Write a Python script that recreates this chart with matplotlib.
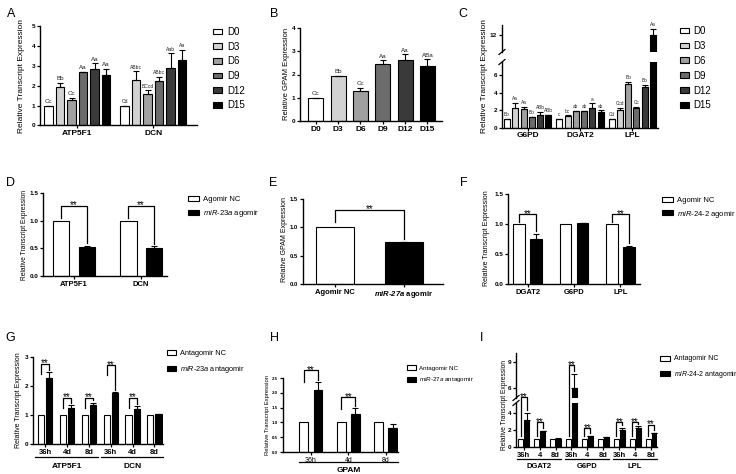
import numpy as np
import matplotlib.pyplot as plt
from matplotlib.patches import Patch
from matplotlib.lines import Line2D

plt.rcParams['font.family'] = ['Liberation Sans', 'DejaVu Sans']
plt.rcParams['mathtext.fontset'] = 'custom'
plt.rcParams['mathtext.rm'] = 'Liberation Sans'
plt.rcParams['mathtext.it'] = 'Liberation Sans:italic'
plt.rcParams['mathtext.bf'] = 'Liberation Sans:bold'
plt.rcParams['mathtext.bfit'] = 'Liberation Sans:italic:bold'

W, H = 736, 474

# ---- data ----
days = ['D0', 'D3', 'D6', 'D9', 'D12', 'D15']

a_genes = ['ATP5F1', 'DCN']
a_mean = [[1.0, 1.93, 1.3, 2.68, 2.83, 2.55],
          [1.0, 2.27, 1.57, 2.23, 2.9, 3.3]]
a_err = [[0.0, 0.2, 0.1, 0.03, 0.3, 0.3],
         [0.0, 0.45, 0.2, 0.23, 0.73, 0.5]]
a_sig = [['Cc', 'Bb', 'Cc', 'Aa', 'Aa', 'Aa'],
         ['Cd', 'ABbc', 'BCcd', 'ABbc', 'Aab', 'Aa']]

b_mean = [1.0, 1.93, 1.3, 2.47, 2.61, 2.36]
b_err = [0.0, 0.02, 0.14, 0.14, 0.26, 0.29]
b_sig = ['Cc', 'Bb', 'Cc', 'Aa', 'Aa', 'ABa']

c_genes = ['G6PD', 'DGAT2', 'LPL']
c_mean = [[1.0, 2.19, 2.15, 1.2, 1.48, 1.4],
          [1.0, 1.3, 1.85, 1.85, 2.2, 1.75],
          [1.0, 1.95, 5.0, 2.2, 4.6, 12.0]]
c_err = [[0.0, 0.6, 0.25, 0.05, 0.3, 0.05],
         [0.0, 0.1, 0.07, 0.08, 0.55, 0.2],
         [0.0, 0.3, 0.2, 0.2, 0.3, 0.7]]
c_sig = [['Bb', 'Aa', 'Aa', 'Bb', 'ABb', 'ABb'],
         ['c', 'bc', 'ab', 'ab', 'a', 'ab'],
         ['Cd', 'Ccd', 'Bb', 'Cc', 'Bb', 'Aa']]

d_genes = ['ATP5F1', 'DCN']
d_nc = [1.0, 1.0]
d_trt = [0.52, 0.51]
d_err = [0.03, 0.03]
d_sig = ['**', '**']
d_brk = [1.27, 1.27]

e_groups = ['Agomir NC', r'$\mathbfit{miR}$-$\mathbfit{27a}$ agomir']
e_nc = [1.0]
e_trt = [0.74]
e_err = [0.01]
e_sig = ['**']
e_brk = [1.31]

f_genes = ['DGAT2', 'G6PD', 'LPL']
f_nc = [1.0, 1.0, 1.0]
f_trt = [0.745, 1.01, 0.62]
f_err = [0.09, 0.01, 0.02]
f_sig = ['**', '', '**']
f_brk = [1.17, 0, 1.17]

g_genes = ['ATP5F1', 'DCN']
g_times = ['36h', '4d', '8d', '36h', '4d', '8d']
g_nc = [1.0] * 6
g_trt = [2.27, 1.24, 1.34, 1.76, 1.22, 1.03]
g_err = [0.2, 0.1, 0.08, 0.02, 0.08, 0.02]
g_sig = ['**', '**', '**', '**', '**', '']
g_brk = [2.77, 1.6, 1.6, 2.71, 1.6, 0]

h_genes = ['GPAM']
h_times = ['36h', '4d', '8d']
h_nc = [1.0] * 3
h_trt = [2.1, 1.27, 0.8]
h_err = [0.25, 0.2, 0.14]
h_sig = ['**', '**', '']
h_brk = [2.76, 1.85, 0]

i_genes = ['DGAT2', 'G6PD', 'LPL']
i_times = ['36h', '4', '8d'] * 3
i_nc = [1.0] * 9
i_trt = [3.2, 1.88, 1.0, 6.0, 1.3, 1.15, 1.95, 2.2, 1.6]
i_err = [0.75, 0.05, 0.02, 1.6, 0.05, 0.02, 0.3, 0.2, 0.1]
i_sig = ['**', '**', '', '**', '**', '', '**', '**', '**']
i_brk = [4.9, 2.88, 0, 8.6, 2.2, 0, 2.9, 2.9, 2.6]

day_colors = ['white', '#d2d2d2', '#a0a0a0', '#6c6c6c', '#3a3a3a', 'black']

fig = plt.figure(figsize=(W / 100, H / 100), dpi=100)


def rect(l, t, r, b):
    return [l / W, 1 - b / H, (r - l) / W, (b - t) / H]


def new_ax(box, ylim, yticks, xlim, fmt='%g', bottom=True, ts=4.6):
    ax = fig.add_axes(rect(*box))
    for s in ['top', 'right']:
        ax.spines[s].set_visible(False)
    for s in ['left', 'bottom']:
        ax.spines[s].set_linewidth(1.0)
    ax.set_ylim(*ylim)
    ax.set_xlim(*xlim)
    ax.set_yticks(yticks)
    ax.set_yticklabels([fmt % v for v in yticks], fontweight='bold')
    ax.tick_params(length=2.5, width=0.9, pad=1.0)
    ax.tick_params(axis='y', labelsize=ts)
    if not bottom:
        ax.spines['bottom'].set_visible(False)
        ax.tick_params(axis='x', bottom=False, labelbottom=False)
    return ax


def pick(axs, y):
    for ax in axs[::-1]:
        if y >= ax.get_ylim()[0]:
            return ax
    return axs[0]


def disp(axs, x, y):
    return pick(axs, y).transData.transform((x, y))


def err_kw():
    return dict(elinewidth=0.8, capsize=2.0, capthick=0.8, ecolor='black')


def day_bars(axs, x, mean, err, width, sig, fs):
    for ax in axs:
        ax.bar(x, mean, width, color=day_colors, edgecolor='black', linewidth=0.8,
               yerr=[np.zeros(len(err)), err], error_kw=err_kw(), zorder=2)
    for xi, m, e, s in zip(x, mean, err, sig):
        ax = pick(axs, m + e)
        ax.annotate(s, (xi, m + e), xytext=(0, 1.2), textcoords='offset points',
                    ha='center', va='bottom', fontsize=fs, color='#222222')


def pair_bars(axs, x, nc, trt, err, width):
    x = np.asarray(x, dtype=float)
    for ax in axs:
        ax.bar(x, nc, width, color='white', edgecolor='black', linewidth=0.8, zorder=2)
        ax.bar(x + 1, trt, width, color='black', edgecolor='black', linewidth=0.8,
               yerr=[np.zeros(len(err)), err], error_kw=err_kw(), zorder=2)


def brackets(axs, x, nc, trt, err, ys, sig, leg=None, fs=7):
    for xi, n, t, e, y, s in zip(x, nc, trt, err, ys, sig):
        if not s:
            continue
        a = disp(axs, xi, y)
        b = disp(axs, xi + 1, y)
        l_end = disp(axs, xi, n)[1] + 2.5
        if leg is not None:
            l_end = max(l_end, a[1] - leg)
        r_end = disp(axs, xi + 1, t + e)[1] + 2.5
        xs = np.array([a[0], a[0], b[0], b[0]]) / W
        yy = np.array([l_end, a[1], b[1], r_end]) / H
        fig.add_artist(Line2D(xs, yy, transform=fig.transFigure, color='black', lw=0.9))
        fig.text((a[0] + b[0]) / 2 / W, (a[1] - 2.8) / H, s, ha='center',
                 va='baseline', fontsize=fs)


def legend(ax, handles, labels, x, ytop, fs, step, bw, bh, gap):
    fpx = fs * 100 / 72
    ax.legend(handles, labels, loc='upper left', bbox_to_anchor=(x / W, 1 - ytop / H),
              bbox_transform=fig.transFigure, frameon=False, fontsize=fs,
              borderpad=0, borderaxespad=0, handlelength=bw / fpx,
              handleheight=bh / fpx, handletextpad=gap / fpx,
              labelspacing=(step - fpx) / fpx)


def broken_marks(lo, hi):
    for ax, end in [(lo, 'top'), (hi, 'bottom')]:
        x0, y0 = ax.transAxes.transform((0, 1 if end == 'top' else 0))
        fig.add_artist(Line2D([(x0 - 3) / W, (x0 + 3) / W], [(y0 - 2.5) / H, (y0 + 2.5) / H],
                              transform=fig.transFigure, color='black', lw=0.9))


def under_groups(ax, spans, names, y_line, y_text, fs):
    for (x0, x1), name in zip(spans, names):
        p0 = ax.transData.transform((x0, 0))[0]
        p1 = ax.transData.transform((x1, 0))[0]
        fig.add_artist(Line2D([p0 / W, p1 / W], [1 - y_line / H] * 2,
                              transform=fig.transFigure, color='black', lw=0.9))
        fig.text((p0 + p1) / 2 / W, 1 - y_text / H, name, ha='center', va='center',
                 fontsize=fs, fontweight='bold')


def ylab(x, y, s, fs):
    fig.text(x / W, 1 - y / H, s, rotation=90, ha='center', va='center', fontsize=fs)


def panel(x, y, s):
    fig.text(x / W, 1 - y / H, s, fontsize=9, va='baseline', ha='left')


day_handles = [Patch(facecolor=c, edgecolor='black', linewidth=0.8) for c in day_colors]

# ---- A ----
axA = new_ax((40, 26, 197, 125.5), (0, 5), [0, 1, 2, 3, 4, 5], (-0.75, 12.9))
for g in range(2):
    xs = g * 6.6 + np.arange(6)
    day_bars([axA], xs, a_mean[g], a_err[g], 0.74, a_sig[g], 4.5 if g == 0 else 3.6)
axA.set_xticks([2.5, 6.6 + 2.5])
axA.set_xticklabels(a_genes, fontsize=6, fontweight='bold')
legend(axA, day_handles, days, 213, 27, 7, 14.4, 8.5, 5, 5.5)
ylab(22, 76, 'Relative Transcript Expression', 6)
panel(7, 17, 'A')

# ---- B ----
axB = new_ax((300, 28, 442, 121), (0, 4), [0, 1, 2, 3, 4], (-0.7, 5.65))
day_bars([axB], np.arange(6), b_mean, b_err, 0.67, b_sig, 4.5)
axB.set_xticks(np.arange(6))
axB.set_xticklabels(days, fontsize=6, fontweight='bold')
ylab(287, 74, 'Relative GPAM Expression', 5.5)
panel(270, 17, 'B')

# ---- C (broken axis) ----
axC = new_ax((502, 62, 658, 127.5), (0, 7.5), [0, 2, 4, 6], (-0.6, 18.2))
axC2 = new_ax((502, 24.5, 658, 52), (10.1, 13.2), [12], (-0.6, 18.2), bottom=False)
for g in range(3):
    xs = g * 6.3 + np.arange(6)
    day_bars([axC, axC2], xs, c_mean[g], c_err[g], 0.72, c_sig[g], 3.4)
axC.set_xticks([g * 6.3 + 2.5 for g in range(3)])
axC.set_xticklabels(c_genes, fontsize=6, fontweight='bold')
broken_marks(axC, axC2)
legend(axC, day_handles, days, 680, 26, 7, 14.6, 8.5, 5, 5)
ylab(485, 76, 'Relative Transcript Expression', 6)
panel(458, 17, 'C')

pair_handles = [Patch(facecolor='white', edgecolor='black', linewidth=0.8),
                Patch(facecolor='black', edgecolor='black', linewidth=0.8)]

# ---- D ----
axD = new_ax((43, 193, 167, 276), (0, 1.5), [0, 0.5, 1.0, 1.5], (-0.7, 4.1), '%.1f')
xd = np.arange(2) * 2.6
pair_bars([axD], xd, d_nc, d_trt, d_err, 0.65)
brackets([axD], xd, d_nc, d_trt, d_err, d_brk, d_sig, leg=12)
axD.set_xticks(xd + 0.5)
axD.set_xticklabels(d_genes, fontsize=5.5, fontweight='bold')
legend(axD, pair_handles, ['Agomir NC', r'$\mathit{miR}$-$\mathit{23a}$ agomir'],
       188, 195.5, 5.5, 13, 11, 5, 4)
ylab(25, 235, 'Relative Transcript Expression', 4.8)
panel(6, 186, 'D')

# ---- E ----
axE = new_ax((303, 199, 443, 284), (0, 1.5), [0, 0.5, 1.0, 1.5], (-0.47, 1.57), '%.1f',
             ts=4.2)
xe = np.array([0.0])
pair_bars([axE], xe, e_nc, e_trt, e_err, 0.55)
brackets([axE], xe, e_nc, e_trt, e_err, e_brk, e_sig, leg=12)
axE.set_xticks([0, 1])
axE.set_xticklabels(e_groups, fontsize=5.5, fontweight='bold')
ylab(285, 240, 'Relative GPAM Expression', 5)
panel(269, 186, 'E')

# ---- F ----
axF = new_ax((508, 194, 640, 284), (0, 1.5), [0, 0.5, 1.0, 1.5], (-0.65, 7.05), '%.1f')
xf = np.arange(3) * 2.7
pair_bars([axF], xf, f_nc, f_trt, f_err, 0.68)
brackets([axF], xf, f_nc, f_trt, f_err, f_brk, f_sig, leg=9)
axF.set_xticks(xf + 0.5)
axF.set_xticklabels(f_genes, fontsize=5.5, fontweight='bold')
legend(axF, pair_handles, ['Agomir NC', r'$\mathit{miR}$-$\mathit{24}$-$\mathit{2}$ agomir'],
       662, 196.5, 5.5, 12.5, 11, 5, 4)
ylab(487, 238, 'Relative Transcript Expression', 5)
panel(460, 186, 'F')

# ---- G ----
axG = new_ax((33, 357, 163, 444), (0, 3), [0, 1, 2, 3], (-1.0, 15.06))
xg = np.arange(6) * 2.7
pair_bars([axG], xg, g_nc, g_trt, g_err, 0.75)
brackets([axG], xg, g_nc, g_trt, g_err, g_brk, g_sig, leg=10)
axG.set_xticks(xg + 0.5)
axG.set_xticklabels(g_times, fontsize=5.5, fontweight='bold')
under_groups(axG, [(xg[0] - 0.7, xg[2] + 1.6), (xg[3] - 0.7, xg[5] + 1.6)], g_genes, 457, 467, 6)
legend(axG, pair_handles, ['Antagomir NC', r'$\mathit{miR}$-$\mathit{23a}$ antagomir'],
       167, 350, 5.3, 14, 8.5, 5, 4.5)
ylab(19, 400, 'Relative Transcript Expression', 5)
panel(5, 341, 'G')

# ---- H ----
axH = new_ax((283, 378, 398, 452), (0, 2.5), [0, 0.5, 1.0, 1.5, 2.0, 2.5], (-1.43, 6.55),
             '%.1f', ts=3.2)
xh = np.arange(3) * 2.6
pair_bars([axH], xh, h_nc, h_trt, h_err, 0.62)
brackets([axH], xh, h_nc, h_trt, h_err, h_brk, h_sig, leg=12)
axH.set_xticks(xh + 0.5)
axH.set_xticklabels(h_times, fontsize=5)
under_groups(axH, [(xh[0] - 0.35, xh[2] + 1.35)], h_genes, 462, 471, 6)
legend(axH, pair_handles, ['Antagomir NC', r'$\mathit{miR}$-$\mathit{27a}$ antagomir'],
       407, 365, 4.5, 11, 8.5, 5, 3.5)
ylab(268, 415, 'Relative Transcript Expression', 4.2)
panel(270, 341, 'H')

# ---- I (broken axis) ----
axI = new_ax((516, 403, 657, 447.3), (0, 5.1), [0, 2, 4], (-0.8, 23.1))
axI2 = new_ax((516, 353, 657, 398), (4.8, 10), [6, 9], (-0.8, 23.1), bottom=False)
xi = np.arange(9) * 2.7
pair_bars([axI, axI2], xi, i_nc, i_trt, i_err, 0.85)
brackets([axI, axI2], xi, i_nc, i_trt, i_err, i_brk, i_sig, leg=None)
axI.set_xticks(xi + 0.5)
axI.set_xticklabels(i_times, fontsize=5.5, fontweight='bold')
under_groups(axI, [(xi[3 * k] - 0.6, xi[3 * k + 2] + 1.5) for k in range(3)], i_genes, 459, 466, 5.5)
broken_marks(axI, axI2)
legend(axI, pair_handles, ['Antagomir NC', r'$\mathit{miR}$-$\mathit{24}$-$\mathit{2}$ antagomir'],
       660, 355.5, 5, 13, 10, 5, 3.5)
ylab(504, 405, 'Relative Transcript Expression', 4.8)
panel(480, 341, 'I')

fig.savefig('out.png', dpi=100)
